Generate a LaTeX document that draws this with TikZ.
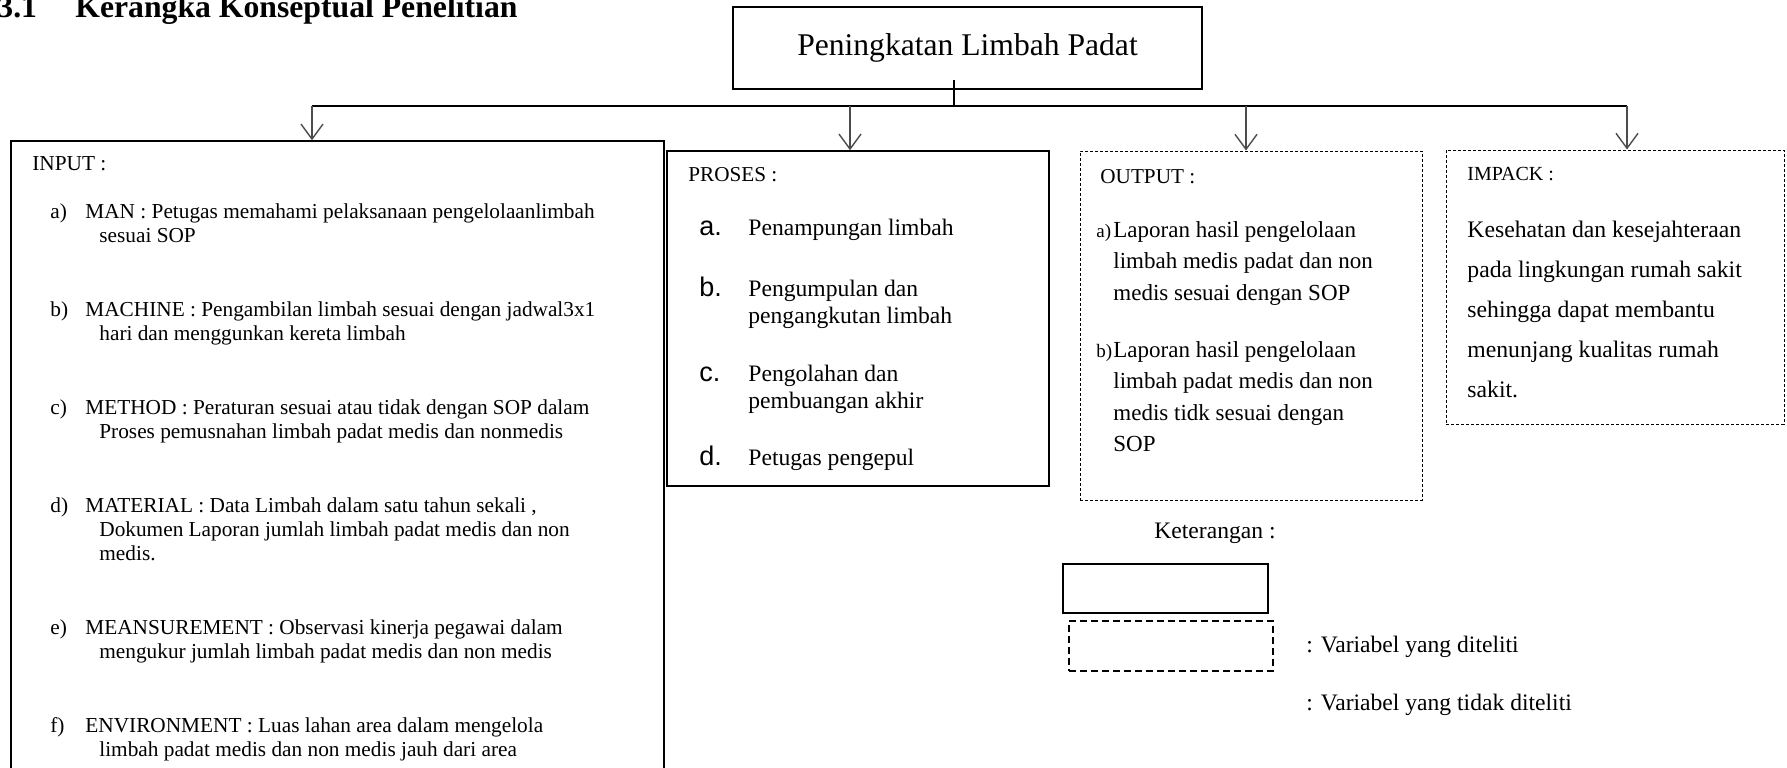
\documentclass[tikz,border=0pt]{standalone}
\usepackage{fontspec}
\setmainfont{Liberation Serif}
\newfontfamily\hurufsans{Liberation Sans}
\usetikzlibrary{arrows.meta,fit}

\newcommand{\teksjudul}{\bfseries\fontsize{15.85pt}{18pt}\selectfont}
\newcommand{\teksutama}{\fontsize{15.8pt}{18pt}\selectfont}
\newcommand{\tekskepala}{\fontsize{10.6pt}{12pt}\selectfont}
\newcommand{\teksinput}{\fontsize{10.65pt}{12pt}\selectfont}
\newcommand{\teksproses}{\fontsize{11.8pt}{13.75pt}\selectfont}
\newcommand{\teksoutput}{\fontsize{11.5pt}{15.75pt}\selectfont}
\newcommand{\teksimpack}{\fontsize{11.85pt}{20pt}\selectfont}
\newcommand{\tekskecil}{\fontsize{9.5pt}{11pt}\selectfont}
\newcommand{\hurufbesar}{\hurufsans\fontsize{13.5pt}{15pt}\selectfont}

\begin{document}
\begin{tikzpicture}[x=0.5pt, y=-0.5pt,
    kotak/.style={draw, line width=0.75pt, inner sep=0pt},
    kotakputus/.style={draw, line width=0.5pt, dash pattern=on 1.5pt off 1pt, inner sep=0pt},
    teks/.style={inner sep=0pt, anchor=base west, align=left},
    garis/.style={line width=1pt},
    panah/.style={draw=black!70, line width=0.7pt, -{Straight Barb[length=7.5pt,width=11pt]}}]
    \useasboundingbox (0,0) rectangle (1787,767);
    \clip (0,0) rectangle (1787,767);

    % judul bab
    \node[teks, font=\teksjudul] (nomor) at (-3,17) {3.1};
    \node[teks, font=\teksjudul] (judul) at (75,17) {Kerangka Konseptual Penelitian};

    % kotak utama dan percabangan
    \node[draw, line width=1.2pt, inner sep=0pt, minimum width=234.5pt, minimum height=41pt, font=\teksutama] (utama) at (967.5,48) {Peningkatan Limbah Padat};
    \coordinate (pangkal) at (954,80);
    \coordinate (cabang) at (954,106);
    \coordinate (kiri) at (312,106);
    \coordinate (tengah) at (850,106);
    \coordinate (kanan1) at (1246,106);
    \coordinate (kanan) at (1627,106);
    \draw[garis] (pangkal) -- (cabang);
    \draw[garis] (kiri) -- (kanan);

    % kotak variabel
    \node[kotak, fit={(11,141) (664,800)}] (input) {};
    \node[kotak, fit={(667,151) (1049,486)}] (proses) {};
    \node[kotakputus, fit={(1080,151) (1422,500)}] (output) {};
    \node[kotakputus, fit={(1446,150) (1784,424)}] (impack) {};

    \draw[panah] (kiri) -- (kiri |- input.north);
    \draw[panah] (tengah) -- (tengah |- proses.north);
    \draw[panah] (kanan1) -- (kanan1 |- output.north);
    \draw[panah] (kanan) -- (kanan |- impack.north);

    % input (baris terakhir tiap butir sebagai base)
    \node[teks, font=\teksinput] (judulinput) at (32,170) {INPUT :};
    \node[teks, font=\teksinput] (ina) at (50,218) {a)};
    \node[teks, font=\teksinput] (isia) at (85,242) {MAN : Petugas memahami pelaksanaan pengelolaanlimbah\\\hspace*{7pt}sesuai SOP};
    \node[teks, font=\teksinput] (inb) at (50,316) {b)};
    \node[teks, font=\teksinput] (isib) at (85,340) {MACHINE : Pengambilan limbah sesuai dengan jadwal3x1\\\hspace*{7pt}hari dan menggunkan kereta limbah};
    \node[teks, font=\teksinput] (inc) at (50,414) {c)};
    \node[teks, font=\teksinput] (isic) at (85,438) {METHOD : Peraturan sesuai atau tidak dengan SOP dalam\\\hspace*{7pt}Proses pemusnahan limbah padat medis dan nonmedis};
    \node[teks, font=\teksinput] (ind) at (50,512) {d)};
    \node[teks, font=\teksinput] (isid) at (85,560) {MATERIAL : Data Limbah dalam satu tahun sekali ,\\\hspace*{7pt}Dokumen Laporan jumlah limbah padat medis dan non\\\hspace*{7pt}medis.};
    \node[teks, font=\teksinput] (ine) at (50,634) {e)};
    \node[teks, font=\teksinput] (isie) at (85,658) {MEANSUREMENT : Observasi kinerja pegawai dalam\\\hspace*{7pt}mengukur jumlah limbah padat medis dan non medis};
    \node[teks, font=\teksinput] (inf) at (50,732) {f)};
    \node[teks, font=\teksinput] (isif) at (85,756) {ENVIRONMENT : Luas lahan area dalam mengelola\\\hspace*{7pt}limbah padat medis dan non medis jauh dari area};

    % proses
    \node[teks, font=\tekskepala] (judulproses) at (688,181) {PROSES :};
    \node[teks, font=\hurufbesar] (pra) at (699,235) {a.};
    \node[teks, font=\teksproses] (isipa) at (748,235) {Penampungan limbah};
    \node[teks, font=\hurufbesar] (prb) at (699,296) {b.};
    \node[teks, font=\teksproses] (isipb) at (748,323.5) {Pengumpulan dan\\pengangkutan limbah};
    \node[teks, font=\hurufbesar] (prc) at (699,381) {c.};
    \node[teks, font=\teksproses] (isipc) at (748,408.5) {Pengolahan dan\\pembuangan akhir};
    \node[teks, font=\hurufbesar] (prd) at (699,465) {d.};
    \node[teks, font=\teksproses] (isipd) at (748,465) {Petugas pengepul};

    % output
    \node[teks, font=\tekskepala] (juduloutput) at (1100,183) {OUTPUT :};
    \node[teks, font=\tekskecil] (oua) at (1096,237) {a)};
    \node[teks, font=\teksoutput] (isioa) at (1113,300) {Laporan hasil pengelolaan\\limbah medis padat dan non\\medis sesuai dengan SOP};
    \node[teks, font=\tekskecil] (oub) at (1096,357) {b)};
    \node[teks, font=\teksoutput] (isiob) at (1113,451.5) {Laporan hasil pengelolaan\\limbah padat medis dan non\\medis tidk sesuai dengan\\SOP};

    % impack
    \node[teks, font=\fontsize{10pt}{12pt}\selectfont] (judulimpack) at (1467,180) {IMPACK :};
    \node[teks, font=\teksimpack] (isiimpack) at (1467,397) {Kesehatan dan kesejahteraan\\pada lingkungan rumah sakit\\sehingga dapat membantu\\menunjang kualitas rumah\\sakit.};

    % keterangan
    \node[teks, font=\teksproses] (keterangan) at (1154,538) {Keterangan :};
    \node[draw, line width=1pt, inner sep=0pt, fit={(1063,564) (1268,613)}] (contohditeliti) {};
    \node[draw, line width=1pt, dash pattern=on 3.5pt off 2pt, inner sep=0pt, fit={(1069,621) (1273,671)}] (contohtidak) {};
    \node[teks, font=\teksproses] (ketditeliti) at (1306,652) {: Variabel yang diteliti};
    \node[teks, font=\teksproses] (kettidak) at (1306,710) {: Variabel yang tidak diteliti};
\end{tikzpicture}
\end{document}
